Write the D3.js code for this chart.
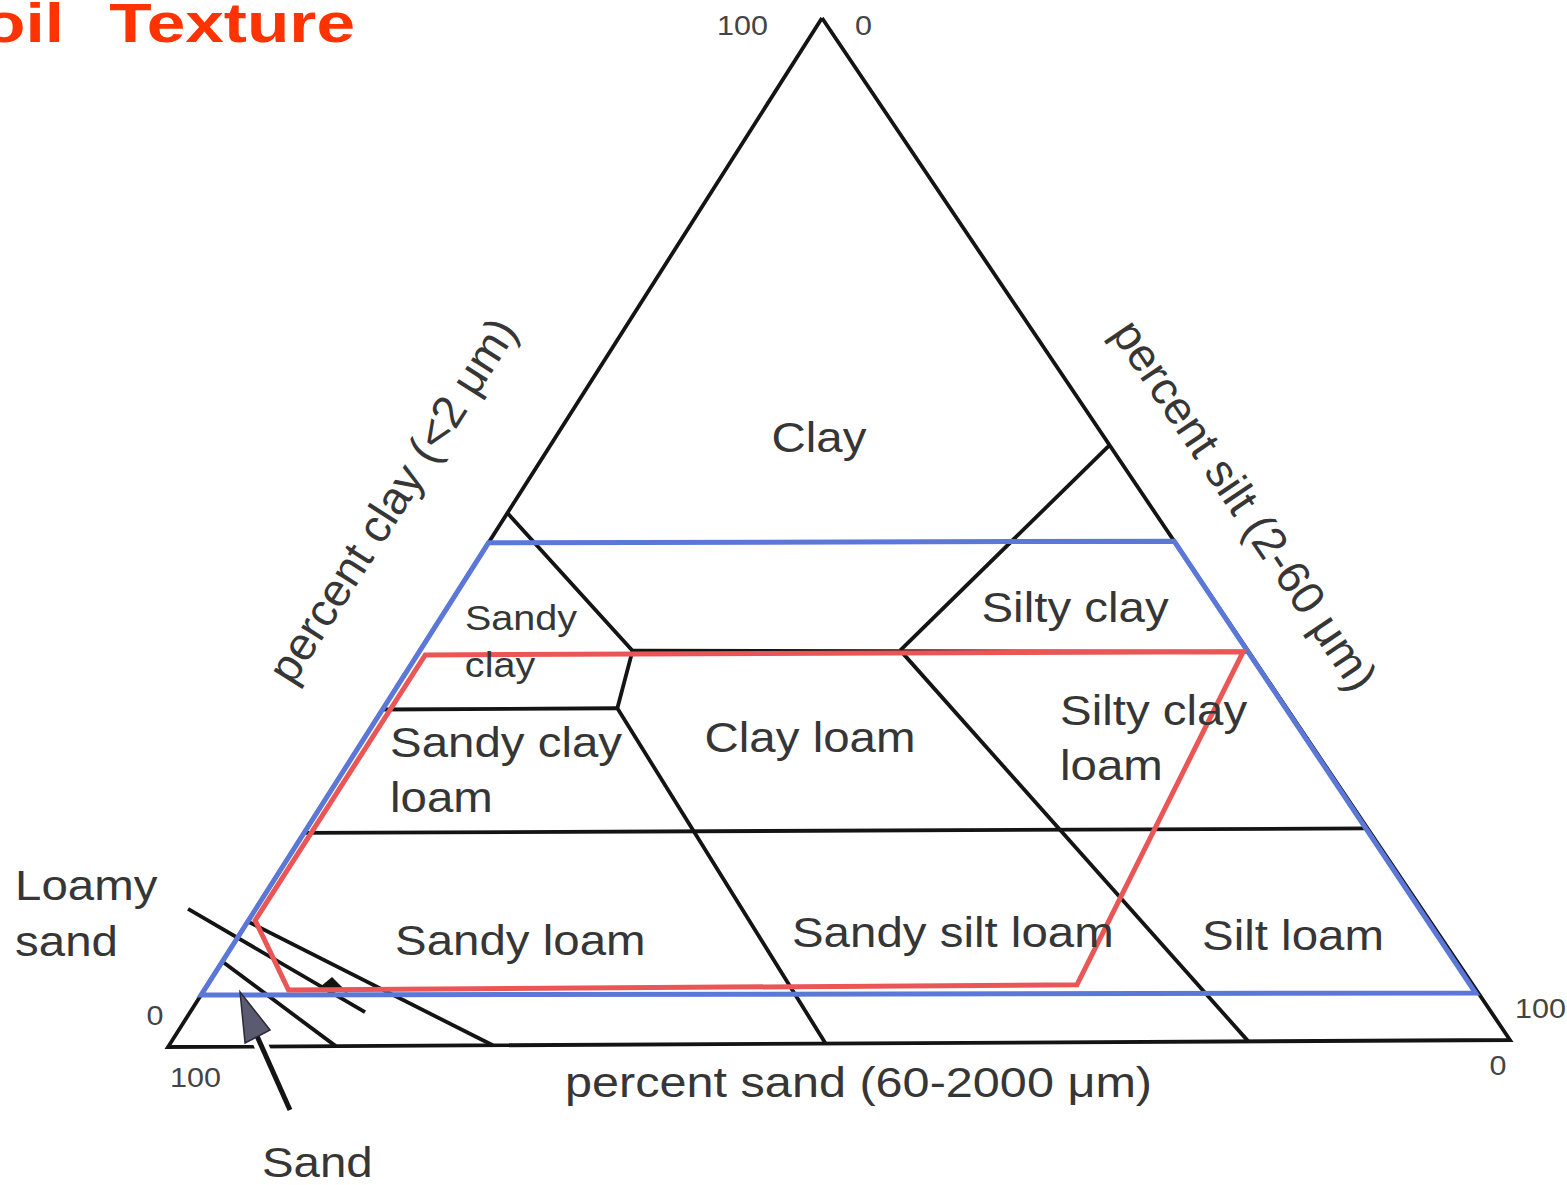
<!DOCTYPE html>
<html><head><meta charset="utf-8">
<script src="https://cdn.jsdelivr.net/npm/d3@7"></script>
<style>html,body{margin:0;padding:0;background:#fff;overflow:hidden}</style>
</head><body>
<svg id="chart" width="1567" height="1185"></svg>
<script>
// ---------- DATA (all points as [clay %, silt %]; sand = 100 - clay - silt) ----------
const triangleEdges      = [[100,0],[0,0],[0,100],[100,0]];
const sandyClayScl       = [[32.8,0],[32.8,17.5]];
const clay38Line         = [[38.4,15.9],[38.0,62.0]];
const clay21Line         = [[20.8,0],[20.7,79.3]];
const sandyClayBoundary  = [[51.9,0],[38.4,15.9],[32.8,17.5],[0,49]];
const clayBoundary       = [[58.2,41.8],[38.3,35.9]];
const siltyBoundary      = [[38.3,35.9],[0,80.5]];
const loamySandUpper     = [[12.2,0],[0,24.2]];
const loamySandLower     = [[8.3,0],[0,12.5]];
const loamySandLeader    = [[13.45,-5.06],[3.31,13.07]];
const loamySandHead      = [[5.77,8.51],[6.74,8.94],[5.17,10.89]];
const sandArrowShaft     = [[-6.2,12.11],[1.03,6.13]];
const sandArrowHead      = [[5.33,2.77],[0.35,5.57],[1.61,6.82]];
const bluePolygon        = [[49.0,0],[48.8,51.2],[4.6,95.2],[5.05,0]];
const redPolygon         = [[38.1,0.6],[38.0,61.6],[5.6,65.0],[5.5,6.3],[12.3,0.5]];

const regionLabels = [
  ["Clay",            57.68, 20.40, "middle", 42],
  ["Silty clay",      40.98, 47.62, "middle", 42],
  ["Sandy",           40.48,  6.58, "middle", 35],
  ["clay",            35.91,  7.24, "middle", 35],
  ["Sandy clay",      28.16,  2.82, "start",  42],
  ["loam",            22.80,  5.43, "start",  42],
  ["Clay loam",       28.44, 33.98, "middle", 42],
  ["Silty clay",      30.94, 51.39, "start",  42],
  ["loam",            25.58, 54.00, "start",  42],
  ["Loamy",           14.41,-18.42, "start",  42],
  ["sand",             8.95,-15.76, "start",  42],
  ["Sandy loam",       8.86, 12.60, "start",  42],
  ["Sandy silt loam",  9.43, 41.90, "start",  42],
  ["Silt loam",        8.93, 72.70, "start",  42],
  ["Sand",           -12.72, 13.20, "start",  42]
];
const tickLabels = [
  ["100", 98.37, -3.23, "end"],
  ["0",   98.33,  3.27, "start"],
  ["0",    2.15, -2.02, "middle"],
  ["100", -3.90,  2.05, "start"],
  ["100",  2.14, 99.33, "start"],
  ["0",   -3.41,100.77, "middle"]
];
const axisTitles = [
  {text:"percent sand (60-2000 \u03bcm)", clay:-5.08, silt:32.06, anchor:"start",  edge:null},
  {text:"percent clay (<2 \u03bcm)",      clay:53.22, silt:-9.24, anchor:"middle", edge:[[0,0],[100,0]]},
  {text:"percent silt (2-60 \u03bcm)",    clay:52.30, silt:54.77, anchor:"middle", edge:[[100,0],[0,100]]}
];
const titleWords = ["Soil", "Texture"];

// ---------- LAYOUT ----------
const SAND_V = {x:168, y:1047}, SILT_V = {x:1510, y:1040}, CLAY_V = {x:822, y:18};
const siltX = d3.scaleLinear().domain([0,100]).range([0, SILT_V.x - SAND_V.x]);
const siltY = d3.scaleLinear().domain([0,100]).range([0, SILT_V.y - SAND_V.y]);
const clayX = d3.scaleLinear().domain([0,100]).range([0, CLAY_V.x - SAND_V.x]);
const clayY = d3.scaleLinear().domain([0,100]).range([0, CLAY_V.y - SAND_V.y]);
const px = d => SAND_V.x + siltX(d[1]) + clayX(d[0]);
const py = d => SAND_V.y + siltY(d[1]) + clayY(d[0]);
const line = d3.line().x(px).y(py);
const closed = d3.line().x(px).y(py).curve(d3.curveLinearClosed);

const svg = d3.select("#chart");
svg.append("rect").attr("width",1567).attr("height",1185).attr("fill","#fff");

const INK = "#141414", TXT = "#363636";
const gLines = svg.append("g").attr("fill","none").attr("stroke",INK)
  .attr("stroke-width",3.8).attr("stroke-linejoin","miter").attr("stroke-linecap","butt");

[triangleEdges, sandyClayScl, clay38Line, clay21Line, sandyClayBoundary, clayBoundary,
 siltyBoundary, loamySandUpper, loamySandLower, loamySandLeader].forEach(p =>
  gLines.append("path").attr("d", line(p)));

svg.append("path").attr("d", closed(loamySandHead)).attr("fill",INK);

// blue and red zones
svg.append("path").attr("d", closed(bluePolygon)).attr("fill","none")
  .attr("stroke","#5b78d8").attr("stroke-width",5).attr("stroke-linejoin","miter");
svg.append("path").attr("d", closed(redPolygon)).attr("fill","none")
  .attr("stroke","#ea5656").attr("stroke-width",5).attr("stroke-linejoin","miter");

// Sand arrow
svg.append("path").attr("d", line(sandArrowShaft)).attr("stroke","#fff").attr("stroke-width",14).attr("fill","none");
svg.append("path").attr("d", line(sandArrowShaft)).attr("stroke",INK).attr("stroke-width",5).attr("fill","none");
svg.append("path").attr("d", closed(sandArrowHead)).attr("fill","#5a5a70").attr("stroke","#2a2a38").attr("stroke-width",1.5);

const FONT = "'Liberation Sans', Arial, Helvetica, sans-serif";
const SX = 1.13;

// region labels
svg.append("g").selectAll("text").data(regionLabels).join("text")
  .attr("transform", d => `translate(${px([d[1],d[2]])},${py([d[1],d[2]])}) scale(${SX},1)`)
  .attr("text-anchor", d => d[3]).attr("font-size", d => d[4])
  .attr("font-family", FONT).attr("fill", TXT).text(d => d[0]);

// tick labels
svg.append("g").selectAll("text").data(tickLabels).join("text")
  .attr("transform", d => `translate(${px([d[1],d[2]])},${py([d[1],d[2]])}) scale(${SX},1)`)
  .attr("text-anchor", d => d[3]).attr("font-size", 27)
  .attr("font-family", FONT).attr("fill", "#444").text(d => d[0]);

// axis titles
axisTitles.forEach(t => {
  const x = px([t.clay,t.silt]), y = py([t.clay,t.silt]);
  let tr, size;
  if (t.edge) {
    const a = t.edge[0], b = t.edge[1];
    const ang = Math.atan2(py(b)-py(a), px(b)-px(a)) * 180/Math.PI;
    tr = `translate(${x},${y}) rotate(${ang})`;
    size = 46;
  } else {
    tr = `translate(${x},${y}) scale(${SX},1)`;
    size = 43;
  }
  const el = svg.append("text").attr("transform", tr).attr("text-anchor", t.anchor)
    .attr("font-size", size).attr("font-family", FONT).attr("fill", TXT).text(t.text);
  if (t.edge) el.attr("dominant-baseline","central");
});

// title (runs off the left edge, as in the reference)
const title = svg.append("g").attr("font-size",56).attr("font-weight","bold")
  .attr("font-family",FONT).attr("fill","#ff3300").attr("text-anchor","end");
title.append("text").attr("transform","translate(64,42) scale(1.24,1)").text(titleWords[0]);
title.append("text").attr("transform","translate(355,42) scale(1.24,1)").text(titleWords[1]);
</script>
</body></html>
